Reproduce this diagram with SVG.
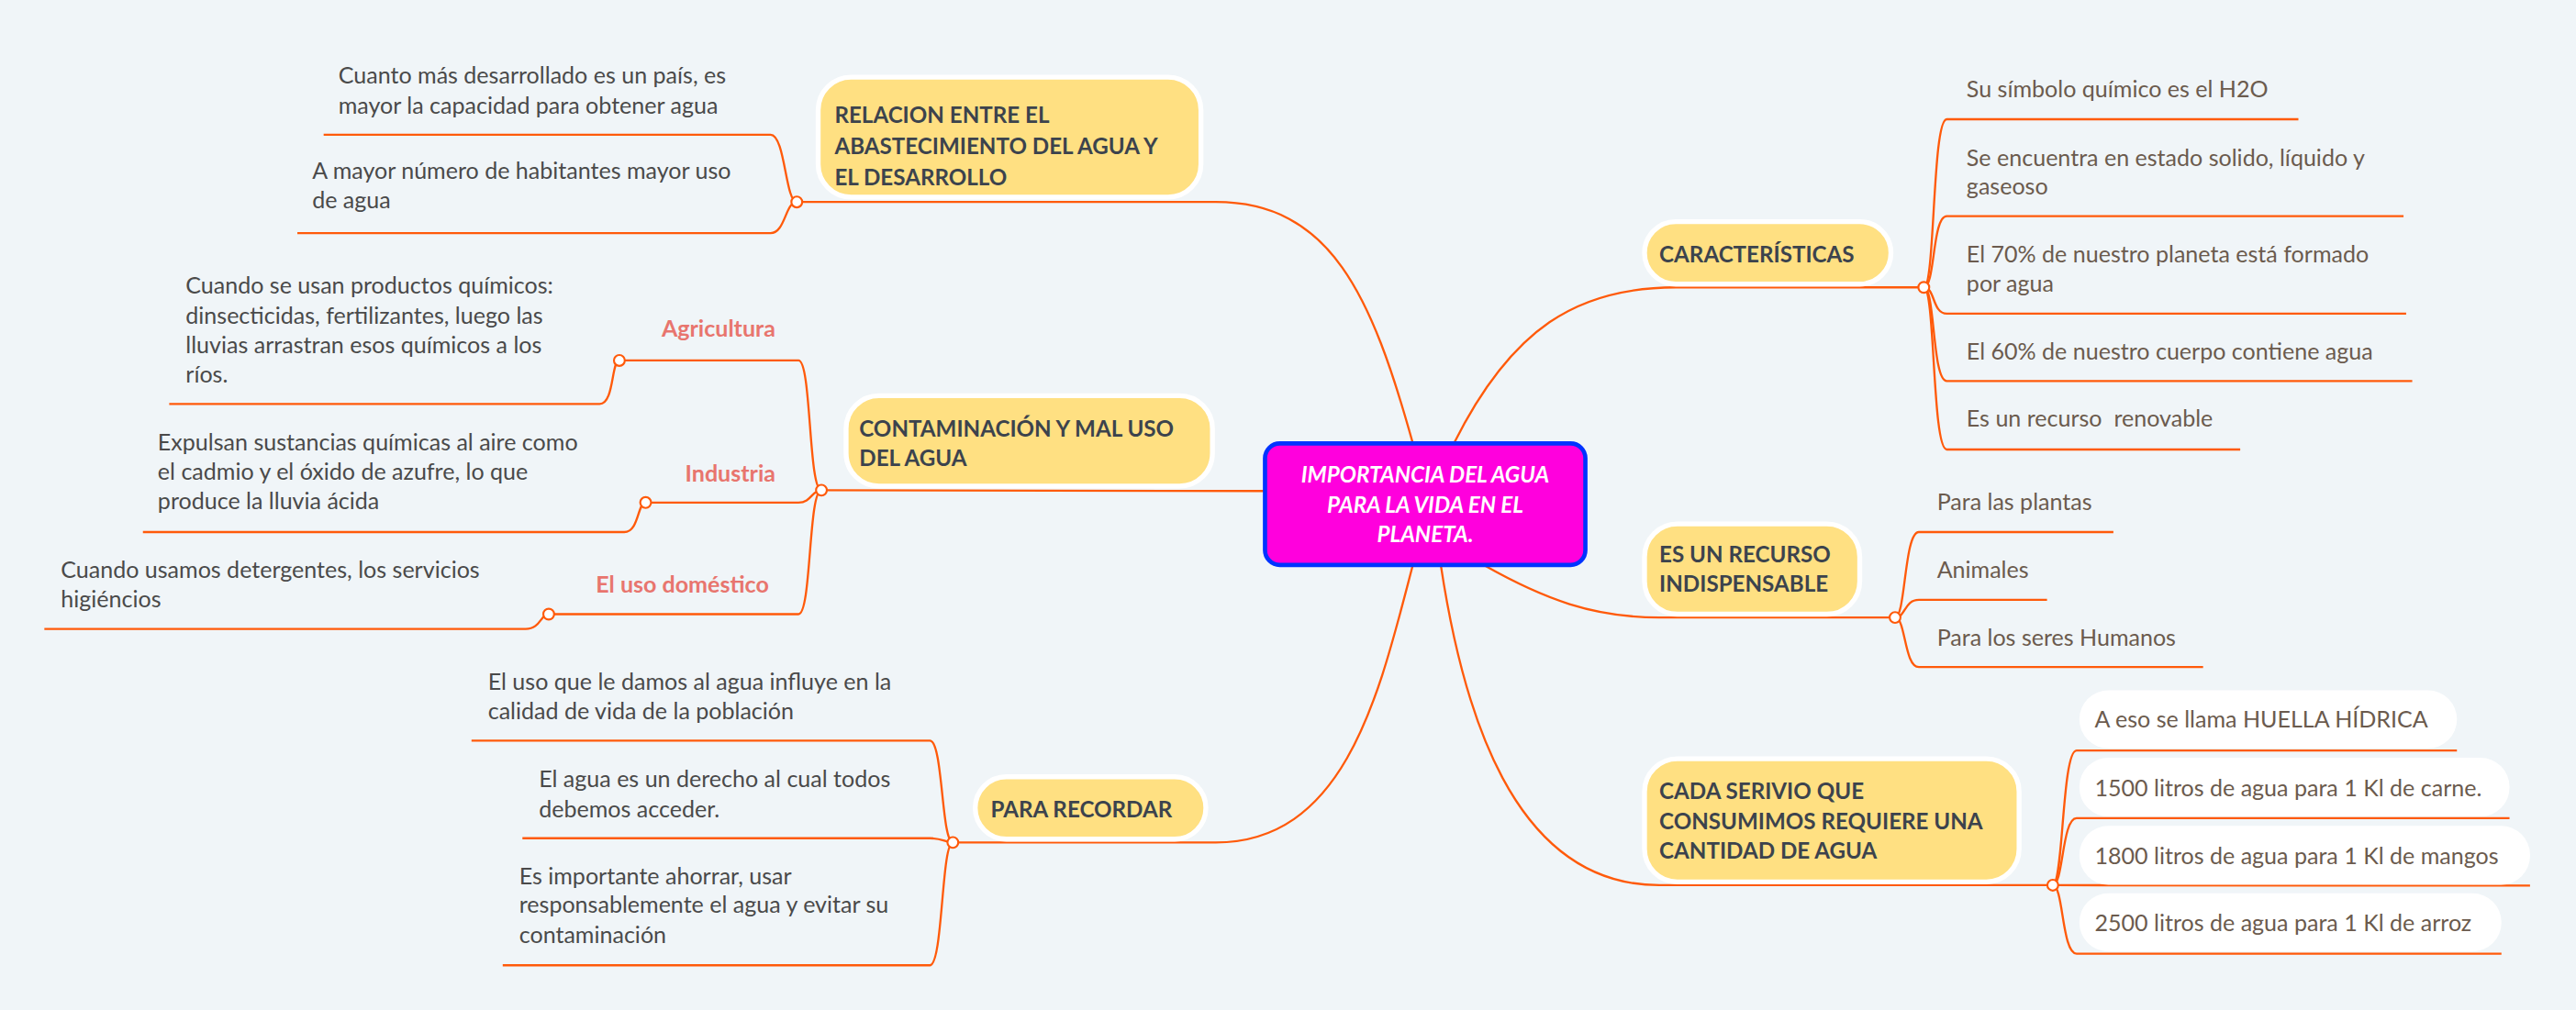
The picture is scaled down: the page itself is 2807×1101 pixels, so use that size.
<svg xmlns="http://www.w3.org/2000/svg" width="2807" height="1101" viewBox="0 0 2807 1101">
<style>
.c{fill:none;stroke:#FF5A0A;stroke-width:1.3}
.k{fill:#fff;stroke:#FF5A0A;stroke-width:1.2}
.box{fill:#FFE082;stroke:#fff;stroke-width:3}
.pill{fill:#fff}
.h{font-family:Lato,"Open Sans",sans-serif;font-weight:700;font-size:13.5px;fill:#3C434D}
.t{font-family:Lato,"Open Sans",sans-serif;font-size:14px;fill:#4a4a4a}
.r{font-family:Lato,"Open Sans",sans-serif;font-size:14px;fill:#6b5b4e}
.p{font-family:Lato,"Open Sans",sans-serif;font-weight:700;font-size:14px;fill:#E8756E}
.m{font-family:Lato,"Open Sans",sans-serif;font-weight:700;font-style:italic;font-size:13.5px;fill:#fff}
</style>
<rect width="2807" height="1101" fill="#F0F5F8"/>
<g transform="scale(1.7902)">
<g id="connectors">
<path class="c" d="M860 270 C835 180 810 123 740 123 L485 123"/>
<path class="c" d="M485 123 C478 123 478 82 469 82 L197 82"/>
<path class="c" d="M485 123 C478 123 478 142 469 142 L181 142"/>
<path class="c" d="M770 299 L500 298.5"/>
<path class="c" d="M500 298.5 C492 298.5 494 219.5 486 219.5 L377 219.5"/>
<path class="c" d="M377 219.5 C372 219.5 374 246 365 246 L103 246"/>
<path class="c" d="M500 298.5 C494 298.5 494 306 486 306 L393 306"/>
<path class="c" d="M393 306 C388 306 389 324 380 324 L87 324"/>
<path class="c" d="M500 298.5 C492 298.5 494 374 486 374 L334 374"/>
<path class="c" d="M334 374 C329 374 329 383 320 383 L27 383"/>
<path class="c" d="M860 344 C840 420 820 513 740 513 L580 513"/>
<path class="c" d="M580 513 C573 513 574 451 566 451 L287 451"/>
<path class="c" d="M580 513 C575 513 574 510.4 566 510.4 L318 510.4"/>
<path class="c" d="M580 513 C573 513 574 587.8 566 587.8 L306 587.8"/>
<path class="c" d="M885 270 C920 200 960 175 1020 175 L1171 175"/>
<path class="c" d="M1171 175 C1178 175 1176 72.6 1185 72.6 L1399 72.6"/>
<path class="c" d="M1171 175 C1178 175 1176 131.6 1185 131.6 L1463 131.6"/>
<path class="c" d="M1171 175 C1178 175 1176 191 1185 191 L1464.6 191"/>
<path class="c" d="M1171 175 C1178 175 1176 232 1185 232 L1468.3 232"/>
<path class="c" d="M1171 175 C1178 175 1176 273.7 1185 273.7 L1363.6 273.7"/>
<path class="c" d="M903 344 C940 365 970 376 1010 376 L1153.5 376"/>
<path class="c" d="M1153.5 376 C1160 376 1159 324 1168 324 L1286.4 324"/>
<path class="c" d="M1153.5 376 C1160 376 1159 365.3 1168 365.3 L1246 365.3"/>
<path class="c" d="M1153.5 376 C1160 376 1159 406.2 1168 406.2 L1341 406.2"/>
<path class="c" d="M877 344 C890 430 920 539 1010 539 L1249.5 539"/>
<path class="c" d="M1249.5 539 C1256 539 1255 457 1264 457 L1495.5 457"/>
<path class="c" d="M1249.5 539 C1256 539 1255 498.2 1264 498.2 L1527.5 498.2"/>
<path class="c" d="M1249.5 539 L1540 539.3"/>
<path class="c" d="M1249.5 539 C1256 539 1255 580.7 1264 580.7 L1522.6 580.7"/>
<circle class="k" cx="485" cy="123" r="3.3"/>
<circle class="k" cx="500" cy="298.5" r="3.3"/>
<circle class="k" cx="377" cy="219.5" r="3.3"/>
<circle class="k" cx="393" cy="306" r="3.3"/>
<circle class="k" cx="334" cy="374" r="3.3"/>
<circle class="k" cx="580" cy="513" r="3.3"/>
<circle class="k" cx="1171" cy="175" r="3.3"/>
<circle class="k" cx="1153.5" cy="376" r="3.3"/>
<circle class="k" cx="1249.5" cy="539" r="3.3"/>
</g>
<g id="center">
<rect x="770" y="270" width="195" height="74" rx="9" fill="#FF00DD" stroke="#0033FF" stroke-width="2.6"/>
<text class="m" x="867.5" text-anchor="middle"><tspan x="867.5" y="294">IMPORTANCIA DEL AGUA</tspan><tspan x="867.5" y="312">PARA LA VIDA EN EL</tspan><tspan x="867.5" y="330">PLANETA.</tspan></text>
</g>
<g id="relacion">
<rect class="box" x="498" y="47" width="233" height="73" rx="20"/>
<text class="h"><tspan x="508" y="75">RELACION ENTRE EL</tspan><tspan x="508" y="94">ABASTECIMIENTO DEL AGUA Y</tspan><tspan x="508" y="113">EL DESARROLLO</tspan></text>
<text class="t"><tspan x="206" y="51">Cuanto más desarrollado es un país, es</tspan><tspan x="206" y="69">mayor la capacidad para obtener agua</tspan></text>
<text class="t"><tspan x="190" y="109">A mayor número de habitantes mayor uso</tspan><tspan x="190" y="127">de agua</tspan></text>
</g>
<g id="contaminacion">
<rect class="box" x="515" y="241" width="223" height="55" rx="20"/>
<text class="h"><tspan x="523" y="266">CONTAMINACIÓN Y MAL USO</tspan><tspan x="523" y="284">DEL AGUA</tspan></text>
<text class="p" x="472" y="205" text-anchor="end">Agricultura</text>
<text class="t"><tspan x="113" y="179">Cuando se usan productos químicos:</tspan><tspan x="113" y="197">dinsecticidas, fertilizantes, luego las</tspan><tspan x="113" y="215">lluvias arrastran esos químicos a los</tspan><tspan x="113" y="233">ríos.</tspan></text>
<text class="p" x="472" y="293" text-anchor="end">Industria</text>
<text class="t"><tspan x="96" y="274">Expulsan sustancias químicas al aire como</tspan><tspan x="96" y="292">el cadmio y el óxido de azufre, lo que</tspan><tspan x="96" y="310">produce la lluvia ácida</tspan></text>
<text class="p" x="468" y="361" text-anchor="end">El uso doméstico</text>
<text class="t"><tspan x="37" y="352">Cuando usamos detergentes, los servicios</tspan><tspan x="37" y="370">higiéncios</tspan></text>
</g>
<g id="recordar">
<rect class="box" x="593.6" y="473" width="140.4" height="38" rx="19"/>
<text class="h" x="603" y="497.5">PARA RECORDAR</text>
<text class="t"><tspan x="297" y="420">El uso que le damos al agua influye en la</tspan><tspan x="297" y="438">calidad de vida de la población</tspan></text>
<text class="t"><tspan x="328" y="479">El agua es un derecho al cual todos</tspan><tspan x="328" y="497.5">debemos acceder.</tspan></text>
<text class="t"><tspan x="316" y="538.4">Es importante ahorrar, usar</tspan><tspan x="316" y="556">responsablemente el agua y evitar su</tspan><tspan x="316" y="574.4">contaminación</tspan></text>
</g>
<g id="caracteristicas">
<rect class="box" x="1001" y="135" width="150" height="38" rx="19"/>
<text class="h" x="1010" y="159.5">CARACTERÍSTICAS</text>
<text class="r"><tspan x="1197" y="59">Su símbolo químico es el H2O</tspan></text>
<text class="r"><tspan x="1197" y="101">Se encuentra en estado solido, líquido y</tspan><tspan x="1197" y="118.6">gaseoso</tspan></text>
<text class="r"><tspan x="1197" y="159.5">El 70% de nuestro planeta está formado</tspan><tspan x="1197" y="177.8">por agua</tspan></text>
<text class="r"><tspan x="1197" y="219">El 60% de nuestro cuerpo contiene agua</tspan></text>
<text class="r"><tspan x="1197" y="260" xml:space="preserve">Es un recurso  renovable</tspan></text>
</g>
<g id="indispensable">
<rect class="box" x="1001" y="319" width="131" height="55" rx="20"/>
<text class="h"><tspan x="1010" y="342.5">ES UN RECURSO</tspan><tspan x="1010" y="360.5">INDISPENSABLE</tspan></text>
<text class="r" x="1179" y="310.6">Para las plantas</text>
<text class="r" x="1179" y="351.8">Animales</text>
<text class="r" x="1179" y="393.3">Para los seres Humanos</text>
</g>
<g id="cada">
<rect class="box" x="1001" y="462" width="228" height="75" rx="20"/>
<text class="h"><tspan x="1010" y="486.6">CADA SERIVIO QUE</tspan><tspan x="1010" y="504.7">CONSUMIMOS REQUIERE UNA</tspan><tspan x="1010" y="523">CANTIDAD DE AGUA</tspan></text>
<rect class="pill" x="1265.7" y="420.4" width="229.8" height="35.3" rx="17.6"/>
<rect class="pill" x="1265.7" y="461.4" width="261.8" height="35.8" rx="17.6"/>
<rect class="pill" x="1265.7" y="502.9" width="274.3" height="35.9" rx="17.6"/>
<rect class="pill" x="1265.7" y="544" width="256.9" height="35.4" rx="17.6"/>
<text class="r" x="1275" y="443">A eso se llama HUELLA HÍDRICA</text>
<text class="r" x="1275" y="485">1500 litros de agua para 1 Kl de carne.</text>
<text class="r" x="1275" y="526">1800 litros de agua para 1 Kl de mangos</text>
<text class="r" x="1275" y="567">2500 litros de agua para 1 Kl de arroz</text>
</g>
</g>
</svg>
